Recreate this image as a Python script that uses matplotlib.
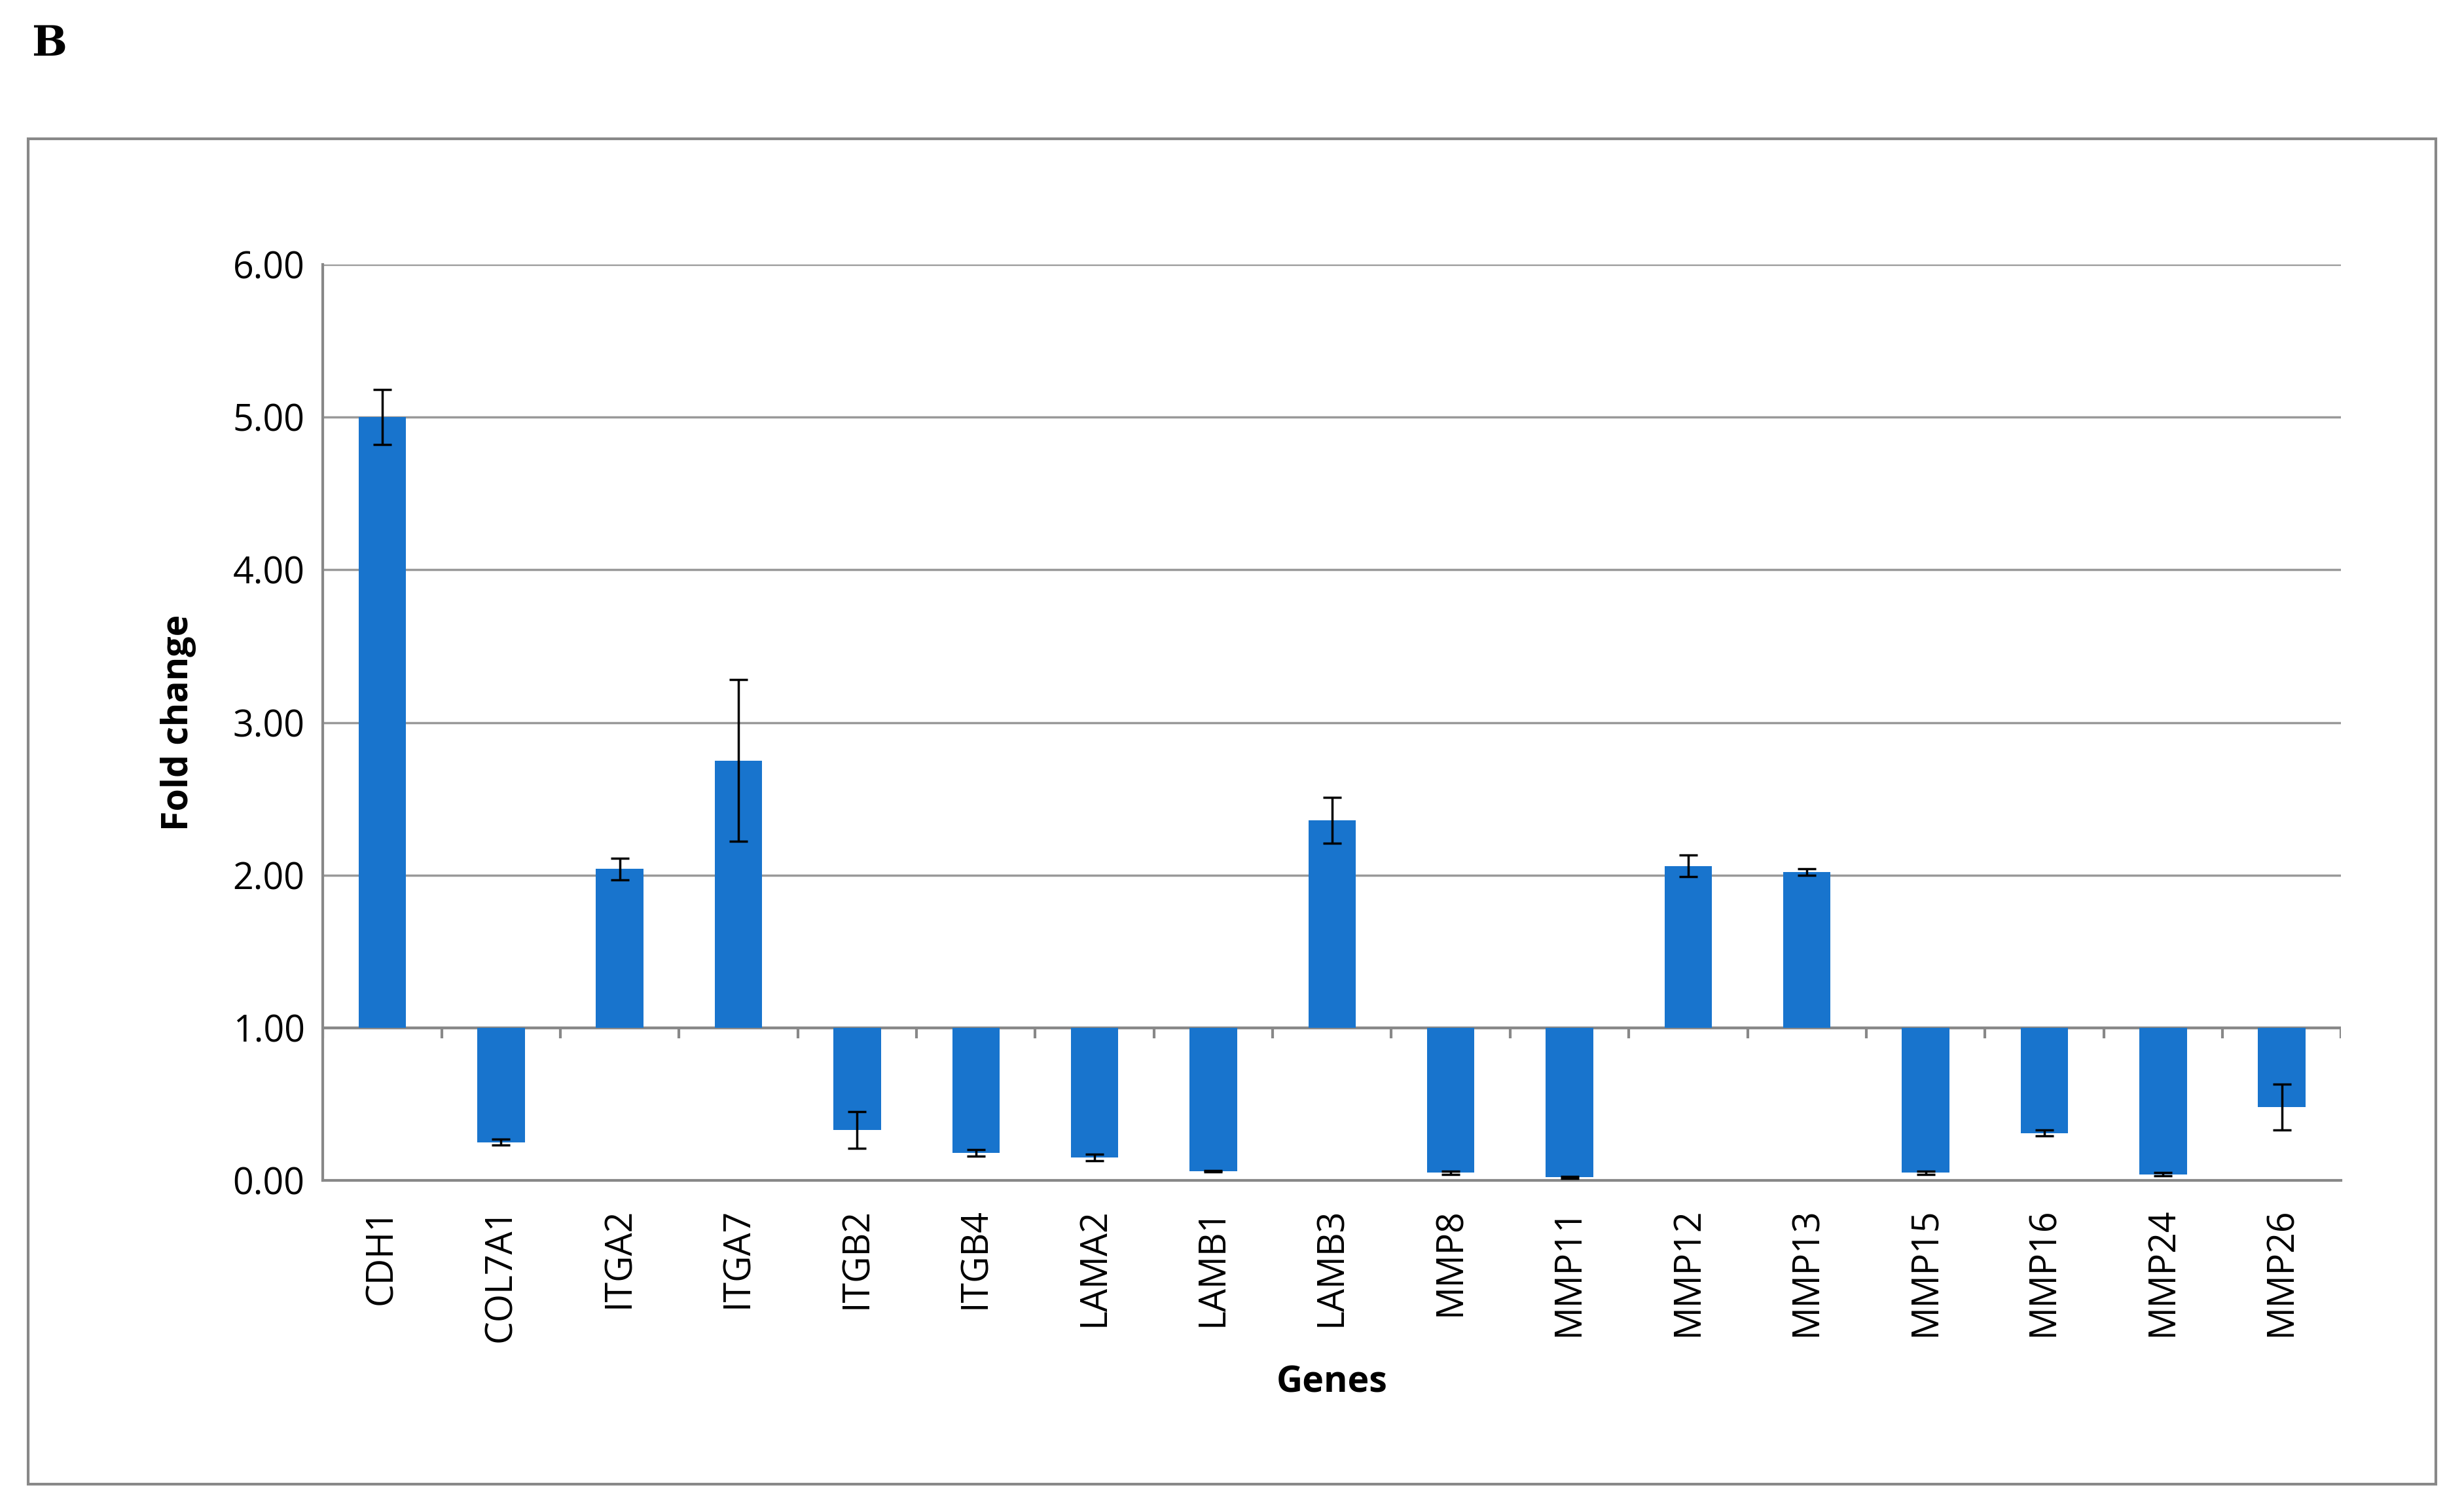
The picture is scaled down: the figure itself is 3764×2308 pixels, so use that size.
import matplotlib.pyplot as plt
import numpy as np
from matplotlib.patches import Rectangle

genes = ['CDH1', 'COL7A1', 'ITGA2', 'ITGA7', 'ITGB2', 'ITGB4', 'LAMA2', 'LAMB1', 'LAMB3',
         'MMP8', 'MMP11', 'MMP12', 'MMP13', 'MMP15', 'MMP16', 'MMP24', 'MMP26']
fold = [5.00, 0.25, 2.04, 2.75, 0.33, 0.18, 0.15, 0.06, 2.36,
        0.05, 0.02, 2.06, 2.02, 0.05, 0.31, 0.04, 0.48]
err = [0.18, 0.02, 0.07, 0.53, 0.12, 0.02, 0.02, 0.005, 0.15,
       0.01, 0.005, 0.07, 0.02, 0.01, 0.02, 0.01, 0.15]
yticks = [0, 1, 2, 3, 4, 5, 6]

plt.rcParams['font.family'] = ['Open Sans', 'DejaVu Sans']
fig = plt.figure(figsize=(37.64, 23.08), dpi=100)
fig.patches.append(Rectangle((18/1564, 1-943/960), 1528/1564, 855/960, transform=fig.transFigure,
                             fill=False, edgecolor='#888888', linewidth=3))
fig.text(20/1564, 1-28/960, 'B', fontsize=46, fontweight='bold', family='DejaVu Serif', va='center')

ax = fig.add_axes([205/1564, 1-750/960, 1281/1564, 582/960])
x = np.arange(len(genes))
heights = [f - 1 for f in fold]
ax.bar(x, heights, bottom=1, width=0.4, color='#1874CD', zorder=3)
ax.errorbar(x, fold, yerr=err, fmt='none', ecolor='black', elinewidth=2.5, capsize=10, capthick=2.5, zorder=4)

ax.set_xlim(-0.5, len(genes) - 0.5)
ax.set_ylim(0, 6)
ax.set_yticks(yticks)
ax.set_yticklabels([f'{v:.2f}' for v in yticks], fontsize=40)
ax.grid(axis='y', color='#999999', linewidth=2.5, zorder=0)
ax.axhline(1, color='#888888', linewidth=3, zorder=2)
ax.vlines(np.arange(len(genes) + 1) - 0.5, 0.93, 1.0, color='#888888', linewidth=3, zorder=2)
ax.set_xticks(x)
ax.set_xticklabels(genes, rotation=90, fontsize=40)
ax.tick_params(axis='x', length=0, pad=30)
ax.tick_params(axis='y', length=0, pad=20)
for s in ['top', 'right']:
    ax.spines[s].set_visible(False)
ax.spines['left'].set_color('#888888')
ax.spines['bottom'].set_color('#888888')
ax.spines['left'].set_linewidth(3)
ax.spines['bottom'].set_linewidth(3)
ax.set_ylabel('Fold change', fontsize=40, fontweight='bold', labelpad=40)
ax.set_xlabel('Genes', fontsize=40, fontweight='bold', labelpad=25)

fig.savefig('out.png', dpi=100)
